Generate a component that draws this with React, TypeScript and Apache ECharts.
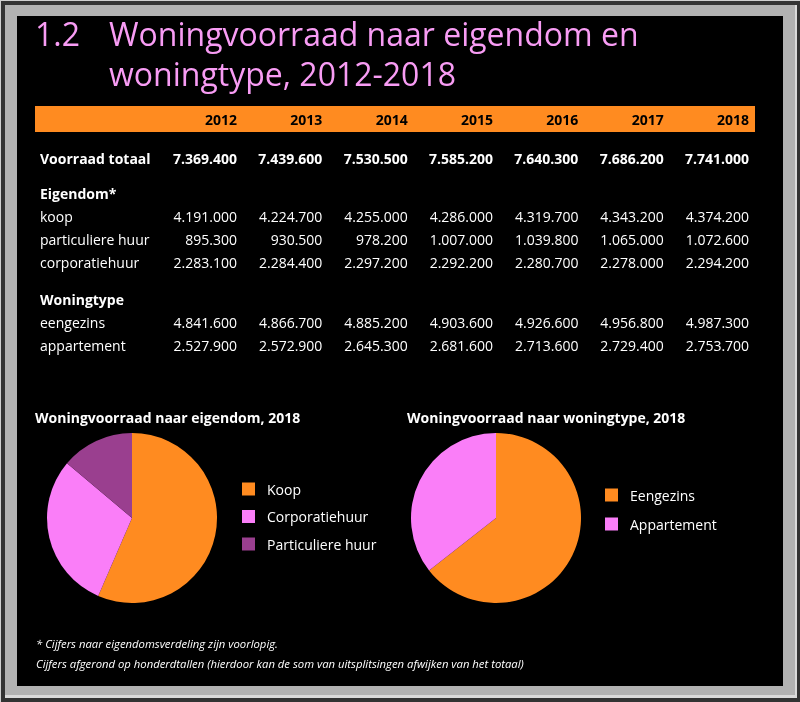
import React, { useEffect, useRef } from "react";
import * as echarts from "echarts";

const years = ["2012", "2013", "2014", "2015", "2016", "2017", "2018"];
const voorraadTotaal = [7369400, 7439600, 7530500, 7585200, 7640300, 7686200, 7741000];
const koop = [4191000, 4224700, 4255000, 4286000, 4319700, 4343200, 4374200];
const particuliereHuur = [895300, 930500, 978200, 1007000, 1039800, 1065000, 1072600];
const corporatiehuur = [2283100, 2284400, 2297200, 2292200, 2280700, 2278000, 2294200];
const eengezins = [4841600, 4866700, 4885200, 4903600, 4926600, 4956800, 4987300];
const appartement = [2527900, 2572900, 2645300, 2681600, 2713600, 2729400, 2753700];

const eigendomNames = ["Koop", "Corporatiehuur", "Particuliere huur"];
const woningtypeNames = ["Eengezins", "Appartement"];

const titleNumber = "1.2";
const titleLines = ["Woningvoorraad naar eigendom en", "woningtype, 2012-2018"];
const pieTitles = ["Woningvoorraad naar eigendom, 2018", "Woningvoorraad naar woningtype, 2018"];
const footnotes = [
  "* Cijfers naar eigendomsverdeling zijn voorlopig.",
  "Cijfers afgerond op honderdtallen (hierdoor kan de som van uitsplitsingen afwijken van het totaal)",
];

const ORANGE = "#FF8B20";
const PINK = "#FA7EF8";
const PURPLE = "#9A3F8F";
const TITLE_PINK = "#F89CF4";
const FONT = "'Open Sans', 'Noto Sans', sans-serif";

function fmt(n: number): string {
  const s = String(Math.round(n));
  let out = "";
  for (let i = 0; i < s.length; i++) {
    const fromEnd = s.length - i;
    out += s[i];
    if (fromEnd > 1 && (fromEnd - 1) % 3 === 0) out += ".";
  }
  return out;
}

type Row = { label: string; values?: number[]; bold: boolean; y: number };

const rows: Row[] = [
  { label: "Voorraad totaal", values: voorraadTotaal, bold: true, y: 158 },
  { label: "Eigendom*", bold: true, y: 193 },
  { label: "koop", values: koop, bold: false, y: 216 },
  { label: "particuliere huur", values: particuliereHuur, bold: false, y: 239 },
  { label: "corporatiehuur", values: corporatiehuur, bold: false, y: 262 },
  { label: "Woningtype", bold: true, y: 299 },
  { label: "eengezins", values: eengezins, bold: false, y: 322 },
  { label: "appartement", values: appartement, bold: false, y: 345 },
];

function colRight(i: number) {
  return 237 + i * 85.35;
}

export default function App() {
  const ref = useRef<HTMLDivElement>(null);
  useEffect(() => {
    if (!ref.current) return;
    const chart = echarts.init(ref.current, null, { renderer: "svg" });

    const graphics: any[] = [];
    // frame
    graphics.push({ type: "rect", shape: { x: 0, y: 0, width: 800, height: 702 }, style: { fill: "#CFCFCF" }, z: -20 });
    graphics.push({ type: "rect", shape: { x: 1, y: 1, width: 799, height: 701 }, style: { fill: "#333333" }, z: -19 });
    graphics.push({ type: "rect", shape: { x: 5, y: 5, width: 792, height: 693 }, style: { fill: "#DADADA" }, z: -18 });
    graphics.push({ type: "rect", shape: { x: 5, y: 5, width: 790, height: 690 }, style: { fill: "#B2B2B2" }, z: -17 });
    graphics.push({ type: "rect", shape: { x: 17, y: 16, width: 766, height: 670 }, style: { fill: "#000000" }, z: -16 });

    // title
    graphics.push({
      type: "text",
      style: { text: titleNumber, x: 35, y: 33, fill: TITLE_PINK, font: `32px ${FONT}`, verticalAlign: "middle" },
    });
    titleLines.forEach((t, i) => {
      graphics.push({
        type: "text",
        style: { text: t, x: 109, y: 33 + i * 40, fill: TITLE_PINK, font: `32px ${FONT}`, verticalAlign: "middle" },
      });
    });

    // header bar
    graphics.push({ type: "rect", shape: { x: 35, y: 106, width: 720, height: 26 }, style: { fill: ORANGE } });
    years.forEach((y, i) => {
      graphics.push({
        type: "text",
        style: { text: y, x: colRight(i), y: 119, fill: "#000", font: `bold 14px ${FONT}`, align: "right", verticalAlign: "middle" },
      });
    });

    rows.forEach((r) => {
      graphics.push({
        type: "text",
        style: { text: r.label, x: 40, y: r.y, fill: "#fff", font: `${r.bold ? "bold " : ""}14px ${FONT}`, verticalAlign: "middle" },
      });
      if (r.values) {
        r.values.forEach((v, i) => {
          graphics.push({
            type: "text",
            style: {
              text: fmt(v),
              x: colRight(i),
              y: r.y,
              fill: "#fff",
              font: `${r.bold ? "bold " : ""}14px ${FONT}`,
              align: "right",
              verticalAlign: "middle",
            },
          });
        });
      }
    });

    // pie titles
    graphics.push({
      type: "text",
      style: { text: pieTitles[0], x: 35, y: 417, fill: "#fff", font: `bold 14px ${FONT}`, verticalAlign: "middle" },
    });
    graphics.push({
      type: "text",
      style: { text: pieTitles[1], x: 407, y: 417, fill: "#fff", font: `bold 14px ${FONT}`, verticalAlign: "middle" },
    });

    // footnotes
    footnotes.forEach((t, i) => {
      graphics.push({
        type: "text",
        style: {
          text: t,
          x: 36,
          y: 643 + i * 20,
          fill: "#fff",
          font: `italic 11.3px ${FONT}`,
          verticalAlign: "middle",
        },
      });
    });

    const last = years.length - 1;
    const eigendomValues = [koop[last], corporatiehuur[last], particuliereHuur[last]];
    const woningValues = [eengezins[last], appartement[last]];

    chart.setOption({
      animation: false,
      backgroundColor: "transparent",
      graphic: { elements: graphics },
      legend: [
        {
          data: eigendomNames,
          orient: "vertical",
          left: 242,
          top: 482,
          padding: 0,
          itemWidth: 13,
          itemHeight: 13,
          itemGap: 13.5,
          icon: "rect",
          textStyle: { color: "#fff", fontSize: 14, fontFamily: FONT, padding: [0, 0, 0, 7] },
          selectedMode: false,
        },
        {
          data: woningtypeNames,
          orient: "vertical",
          left: 605,
          top: 488,
          padding: 0,
          itemWidth: 13,
          itemHeight: 13,
          itemGap: 15,
          icon: "rect",
          textStyle: { color: "#fff", fontSize: 14, fontFamily: FONT, padding: [0, 0, 0, 7] },
          selectedMode: false,
        },
      ],
      series: [
        {
          type: "pie",
          center: [132, 518],
          radius: 85,
          startAngle: 90,
          clockwise: true,
          label: { show: false },
          labelLine: { show: false },
          silent: true,
          itemStyle: { borderWidth: 0 },
          data: eigendomNames.map((n, i) => ({
            name: n,
            value: eigendomValues[i],
            itemStyle: { color: [ORANGE, PINK, PURPLE][i] },
          })),
        },
        {
          type: "pie",
          center: [496, 518],
          radius: 85,
          startAngle: 90,
          clockwise: true,
          label: { show: false },
          labelLine: { show: false },
          silent: true,
          itemStyle: { borderWidth: 0 },
          data: woningtypeNames.map((n, i) => ({
            name: n,
            value: woningValues[i],
            itemStyle: { color: [ORANGE, PINK][i] },
          })),
        },
      ],
    });
    return () => chart.dispose();
  }, []);
  return <div ref={ref} style={{ position: "fixed", left: 0, top: 0, width: 800, height: 702 }} />;
}
